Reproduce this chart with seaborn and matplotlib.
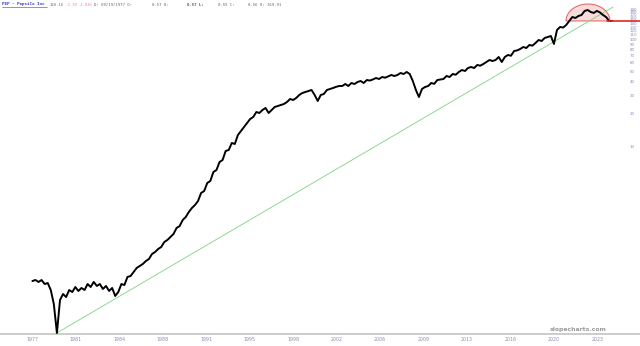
import numpy as np
import pandas as pd
import matplotlib
matplotlib.use("Agg")
import matplotlib.pyplot as plt
import matplotlib.dates as mdates
from matplotlib.ticker import FixedLocator, NullLocator
from matplotlib.lines import Line2D
import seaborn as sns

# ---------------- data ----------------
start_date = "1977-10-01"          # quarterly closes from here on
prices = [
    0.545, 0.557, 0.534, 0.557, 0.511, 0.522, 0.449, 0.332, 0.178, 0.362,
    0.412, 0.386, 0.449, 0.430, 0.479, 0.440, 0.469, 0.449, 0.511, 0.479,
    0.534, 0.490, 0.511, 0.459, 0.490, 0.440, 0.469, 0.395, 0.430, 0.511,
    0.500, 0.595, 0.607, 0.662, 0.722, 0.754, 0.787, 0.839, 0.876, 0.976,
    1.019, 1.087, 1.135, 1.264, 1.320, 1.408, 1.502, 1.709, 1.784, 2.031,
    2.166, 2.413, 2.630, 2.806, 3.058, 3.634, 3.794, 4.508, 4.707, 5.713,
    5.966, 7.088, 7.401, 8.984, 9.181, 10.68, 10.45, 12.68, 13.83, 15.07,
    16.43, 17.91, 18.70, 20.82, 20.38, 21.74, 22.70, 20.38, 21.74, 23.19,
    23.70, 24.21, 24.74, 25.83, 27.55, 26.97, 28.15, 30.04, 31.36, 32.04,
    32.74, 33.45, 30.04, 26.39, 30.04, 30.69, 33.45, 34.18, 34.92, 35.80,
    36.46, 36.46, 38.07, 36.46, 38.90, 38.07, 39.75, 40.61, 38.90, 41.50,
    41.00, 42.00, 43.32, 42.40, 44.27, 43.60, 44.90, 46.22, 45.23, 46.22,
    48.25, 47.22, 49.30, 47.22, 40.61, 33.45, 28.77, 34.18, 35.69, 36.46,
    38.90, 38.20, 41.50, 42.00, 42.40, 45.23, 44.27, 47.22, 46.50, 49.30,
    51.48, 50.38, 53.75, 54.91, 53.75, 57.33, 56.50, 58.59, 61.16, 63.86,
    62.49, 63.86, 68.12, 61.16, 68.12, 71.12, 70.00, 77.52, 78.50, 80.93,
    84.50, 82.70, 88.23, 87.00, 92.12, 98.26, 96.19, 102.6, 104.8, 107.1,
    90.15, 121.9, 130.1, 128.5, 135.8, 148.0, 161.3, 157.9, 164.9, 168.4,
    183.6, 187.6, 179.7, 176.0, 184.0, 178.0, 168.4, 161.3, 148.0, 148.2,
]
trend_dates = ["1979-10-01", "2025-01-25"]
trend_values = [0.178, 200.0]
last_price = 148.16
support_dates = ["2024-08-01", "2027-04-07"]
top_center_date = "2023-01-10"
top_halfwidth_days = 654
top_height_ratio = 1.44

ytick_values = [10, 20, 30, 40, 50, 60, 70, 80, 90, 100,
                110, 120, 130, 140, 150, 160, 170, 180, 190]
xtick_dates = ["1977-09-19", "1981-04-10", "1984-10-23", "1988-05-10",
               "1991-11-24", "1995-06-13", "1998-12-28", "2002-07-16",
               "2006-01-30", "2009-08-18", "2013-03-04", "2016-09-20",
               "2020-04-05", "2023-10-23"]
xtick_labels = ["1977", "1981", "1984", "1988", "1991", "1995", "1998",
                "2002", "2006", "2009", "2013", "2016", "2020", "2023"]

dates = pd.date_range(start_date, periods=len(prices), freq="3MS")
df = pd.DataFrame({"date": dates, "price": prices})
trend = pd.DataFrame({"date": pd.to_datetime(trend_dates), "price": trend_values})

# ---------------- figure ----------------
sns.set_theme(style="white")
plt.rcParams["font.family"] = ["DejaVu Sans"]

W, H = 640, 346
fig = plt.figure(figsize=(W / 100, H / 100), dpi=100)
fig.patch.set_facecolor("white")
ax = fig.add_axes([0, 12 / H, 1, 334 / H])
ax.set_facecolor("white")

# rounded top annotation (half ellipse on the log scale)
cx = mdates.date2num(pd.Timestamp(top_center_date))
t = np.linspace(0, np.pi, 80)
arc_x = cx + top_halfwidth_days * np.cos(t)
arc_y = last_price * np.exp(np.log(top_height_ratio) * np.sin(t))
ax.fill(arc_x, arc_y, facecolor="#fbdada", edgecolor="#e07070", lw=0.8, zorder=1)

sns.lineplot(data=trend, x="date", y="price", ax=ax, color="#7fd37f", lw=0.6, zorder=2)
sns.lineplot(data=df, x="date", y="price", ax=ax, color="black", lw=1.4, zorder=3)

ax.plot(pd.to_datetime(support_dates), [last_price, last_price], color="#e02828",
        lw=1.2, clip_on=False, zorder=4)

ax.set_yscale("log")
ax.set_ylim(0.174, 232.7)
ax.set_xlim(pd.Timestamp("1975-02-10"), pd.Timestamp("2027-04-07"))
ax.set_xlabel("")
ax.set_ylabel("")

ax.yaxis.set_major_locator(FixedLocator(ytick_values))
ax.yaxis.set_minor_locator(NullLocator())
ax.set_yticklabels([str(v) for v in ytick_values])
# labels sit just inside the right edge (pad in points, negative -> inward)
ax.tick_params(axis="y", which="both", left=False, right=False, labelleft=False,
               labelright=True, length=0, pad=-7.6, labelsize=2.9, labelcolor="#8a8fb5")

ax.xaxis.set_major_locator(FixedLocator(mdates.date2num(pd.to_datetime(xtick_dates))))
ax.xaxis.set_minor_locator(NullLocator())
ax.set_xticklabels(xtick_labels)
ax.tick_params(axis="x", which="both", bottom=False, top=False, length=0, pad=2.5,
               labelsize=3.4, labelcolor="#8a8fb5")

for s in ["top", "left", "right"]:
    ax.spines[s].set_visible(False)
ax.spines["bottom"].set_color("#c4c4c4")
ax.spines["bottom"].set_linewidth(1.2)
ax.grid(False)

# ---------------- header text ----------------
def px(x, y):
    return x / W, 1 - y / H

mono = "DejaVu Sans Mono"
fs = 2.9
yh = 4.5
fig.text(*px(2, yh), "PEP - PepsiCo Inc", family=mono, size=3.1, color="#3a3ad0",
         weight="bold", va="center", ha="left")
fig.add_artist(Line2D([2 / W, 47 / W], [1 - 7.2 / H, 1 - 7.2 / H], color="#3a3ad0", lw=0.4))
fig.text(*px(50, yh), "148.16", family=mono, size=fs, color="#777777", va="center")
fig.text(*px(65, yh), "-3.10", family=mono, size=fs, color="#f08a8a", va="center")
fig.text(*px(78, yh), "-1.88%", family=mono, size=fs, color="#f08a8a", va="center")
fig.text(*px(94, yh), "D: 09/19/1977 O:", family=mono, size=fs, color="#666666", va="center")
fig.text(*px(152, yh), "0.57 H:", family=mono, size=fs, color="#666666", va="center")
fig.text(*px(187, yh), "0.57 L:", family=mono, size=fs, color="#555555", va="center", weight="bold")
fig.text(*px(218, yh), "0.55 C:", family=mono, size=fs, color="#666666", va="center")
fig.text(*px(248, yh), "0.56 V: 169.91", family=mono, size=fs, color="#666666", va="center")

# watermark
fig.text(*px(607, 329), "slopecharts.com", size=4.4, weight="bold", color="#9a9a9a",
         ha="right", va="center")

fig.savefig("out.png", dpi=100, facecolor="white")
